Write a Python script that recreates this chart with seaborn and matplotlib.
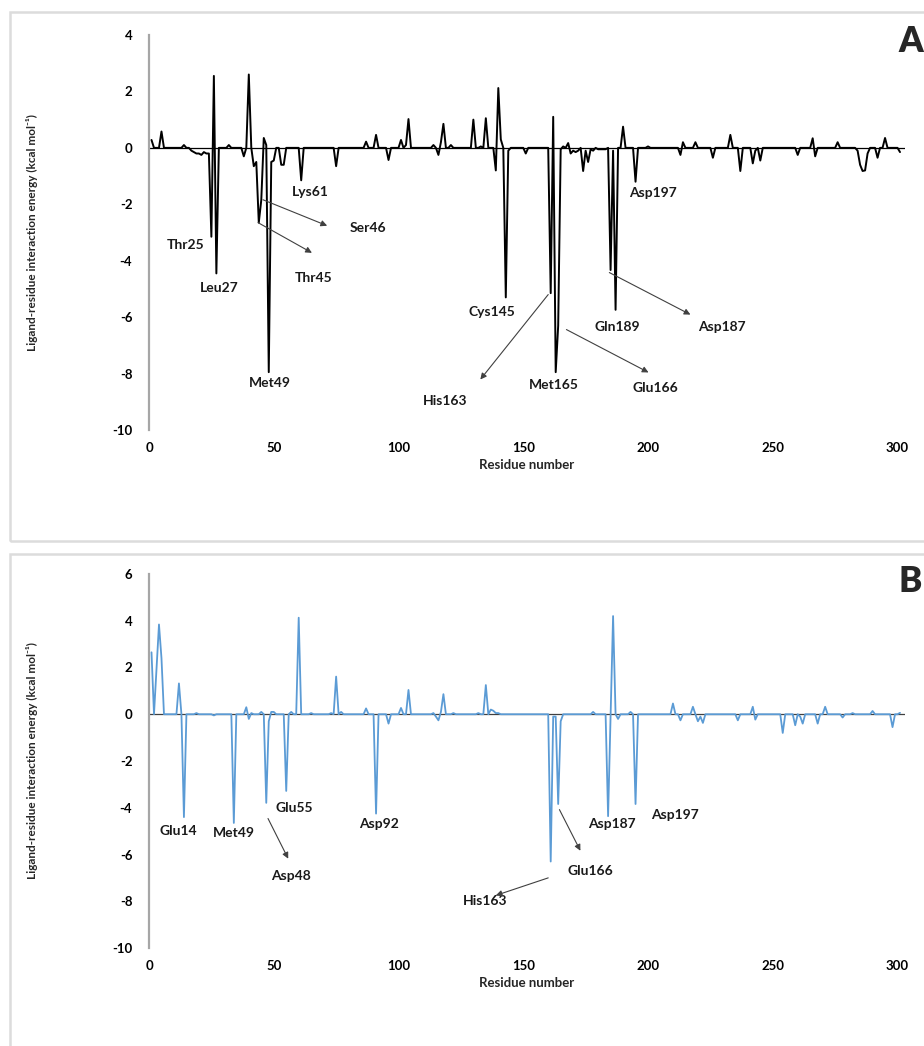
import matplotlib
matplotlib.use("Agg")
import numpy as np
import pandas as pd
import seaborn as sns
import matplotlib.pyplot as plt
from matplotlib.patches import Rectangle

# ---------------- data ----------------
N_RES = 301
# Panel A: residues with non-zero ligand-residue interaction energy (kcal/mol)
A_res = [1, 5, 14, 17, 18, 19, 20, 21, 22, 23, 24, 25, 26, 27, 32, 38, 40, 42, 43, 44,
         45, 46, 47, 48, 49, 50, 53, 54, 61, 75, 87, 91, 96, 101, 103, 104, 114, 116,
         117, 118, 121, 130, 133, 135, 139, 140, 141, 143, 144, 151, 161, 162, 163,
         164, 165, 166, 168, 169, 170, 171, 172, 174, 175, 176, 177, 178, 180, 181,
         182, 183, 185, 186, 187, 190, 195, 200, 213, 214, 219, 226, 233, 237, 242,
         243, 245, 260, 266, 267, 276, 284, 285, 286, 287, 288, 292, 295, 301]
A_val = [0.28, 0.58, 0.1, -0.1, -0.15, -0.2, -0.2, -0.25, -0.15, -0.2, -0.2, -3.15, 2.55,
         -4.45, 0.1, -0.3, 2.6, -0.65, -0.5, -2.65, -1.85, 0.35, 0.1, -7.95, -0.5, -0.45,
         -0.6, -0.6, -1.15, -0.65, 0.22, 0.46, -0.43, 0.28, 0.1, 1.02, 0.1, -0.25, 0.2,
         0.85, 0.1, 1.0, 0.05, 1.05, -0.8, 2.12, 0.3, -5.3, -0.1, -0.2, -5.15, 1.1, -7.95,
         -6.3, -0.05, 0.05, 0.17, -0.2, -0.1, -0.15, -0.1, -0.82, -0.1, -0.5, -0.05,
         -0.1, -0.05, -0.05, -0.05, -0.05, -4.33, -0.1, -5.74, 0.75, -1.2, 0.05, -0.25,
         0.2, 0.2, -0.35, 0.46, -0.82, -0.55, -0.1, -0.45, -0.25, 0.34, -0.3, 0.2, -0.1,
         -0.6, -0.82, -0.8, -0.2, -0.35, 0.35, -0.15]

# Panel B
B_res = [1, 3, 4, 5, 12, 14, 19, 26, 34, 39, 40, 41, 45, 47, 48, 49, 50, 55, 57, 60,
         65, 73, 75, 77, 87, 91, 96, 101, 104, 114, 115, 116, 117, 118, 122, 132, 135,
         137, 138, 139, 140, 161, 162, 163, 164, 165, 178, 184, 186, 188, 193, 195, 210,
         213, 218, 220, 221, 222, 236, 242, 243, 254, 259, 261, 262, 268, 271, 278, 282,
         290, 298, 301]
B_val = [2.65, 1.9, 3.84, 2.4, 1.32, -4.4, 0.05, -0.05, -4.65, 0.3, -0.2, 0.05, 0.1,
         -3.79, -0.3, 0.1, 0.1, -3.28, 0.1, 4.13, 0.05, 0.05, 1.61, 0.1, 0.25, -4.25,
         -0.4, 0.27, 1.04, 0.05, -0.1, -0.26, 0.1, 0.86, 0.05, 0.05, 1.25, 0.2, 0.15,
         0.05, 0.05, -6.3, -0.1, -0.1, -3.84, -0.3, 0.1, -4.36, 4.2, -0.2, 0.1, -3.84,
         0.46, -0.26, 0.32, -0.3, -0.1, -0.37, -0.26, 0.32, -0.23, -0.8, -0.47, -0.1,
         -0.4, -0.4, 0.32, -0.14, 0.05, 0.14, -0.55, 0.06]

X_TICKS = [0, 50, 100, 150, 200, 250, 300]
A_YTICKS = [-10, -8, -6, -4, -2, 0, 2, 4]
B_YTICKS = [-10, -8, -6, -4, -2, 0, 2, 4, 6]

# annotations: (label, text x, text y, arrow tail/head (x0, y0, x1, y1) or None)
A_LABELS = [("Thr25", 14.8, -3.43, None), ("Leu27", 28.1, -4.96, None),
            ("Lys61", 64.6, -1.56, None), ("Ser46", 87.8, -2.83, (45.7, -1.84, 71.4, -2.76)),
            ("Thr45", 65.8, -4.6, (43.7, -2.65, 65.3, -3.72)), ("Met49", 48.5, -8.32, None),
            ("Cys145", 137.6, -5.8, None),
            ("His163", 118.7, -8.96, (160.0, -5.2, 132.8, -8.21)),
            ("Met165", 162.1, -8.42, None),
            ("Glu166", 203.0, -8.5, (167.3, -6.44, 200.2, -7.96)),
            ("Gln189", 187.7, -6.34, None),
            ("Asp187", 229.8, -6.34, (184.5, -4.42, 217.0, -5.91)),
            ("Asp197", 201.8, -1.59, None)]
B_LABELS = [("Glu14", 11.6, -4.98, None), ("Met49", 34.1, -5.1, None),
            ("Glu55", 58.2, -4.03, None), ("Asp92", 92.3, -4.68, None),
            ("Asp48", 57.0, -6.9, (47.7, -4.46, 55.8, -6.18)),
            ("Asp187", 185.7, -4.68, None), ("Asp197", 210.6, -4.33, None),
            ("Glu166", 176.9, -6.7, (164.5, -4.08, 172.9, -5.84)),
            ("His163", 134.8, -8.0, (160.0, -7.0, 139.0, -7.75))]

# ---------------- style ----------------
sns.set_theme(style="white")
plt.rcParams["font.family"] = ["Lato", "DejaVu Sans"]
plt.rcParams["axes.unicode_minus"] = False

W, H = 924, 1046
fig = plt.figure(figsize=(W / 100, H / 100), dpi=100)
fig.patch.set_facecolor("white")


def fx(px):
    return px / W


def fy(py):
    return 1 - py / H


# panel frames
fig.add_artist(Rectangle((fx(10), fy(541)), 1.2, (541 - 12) / H, transform=fig.transFigure,
                         fill=False, edgecolor="#dcdcdc", lw=1.8))
fig.add_artist(Rectangle((fx(10), fy(1100)), 1.2, (1100 - 554) / H, transform=fig.transFigure,
                         fill=False, edgecolor="#dcdcdc", lw=1.8))

axA = fig.add_axes([fx(149), fy(430), (905 - 149) / W, (430 - 35) / H])
axB = fig.add_axes([fx(149), fy(948), (905 - 149) / W, (948 - 574) / H])

resid = np.arange(1, N_RES + 1)
eA = np.zeros(N_RES)
eA[np.array(A_res) - 1] = A_val
eB = np.zeros(N_RES)
eB[np.array(B_res) - 1] = B_val
dfA = pd.DataFrame({"Residue number": resid, "Energy": eA})
dfB = pd.DataFrame({"Residue number": resid, "Energy": eB})


def style_axis(ax, yticks, ylo, yhi, zero_color):
    ax.axhline(0, color=zero_color, lw=0.9, zorder=1)
    ax.set_xlim(0, 303)
    ax.set_ylim(ylo, yhi)
    ax.set_xticks(X_TICKS)
    ax.set_yticks(yticks)
    for s in ["top", "right", "bottom"]:
        ax.spines[s].set_visible(False)
    ax.spines["left"].set_color("#a6a6a6")
    ax.spines["left"].set_linewidth(1.6)
    ax.tick_params(axis="both", length=0, labelsize=9.5, colors="black")
    ax.tick_params(axis="y", pad=12)
    ax.tick_params(axis="x", pad=9)
    for lbl in ax.get_xticklabels() + ax.get_yticklabels():
        lbl.set_fontweight("bold")
    ax.set_xlabel("Residue number", fontsize=9.5, fontweight="bold", labelpad=3)
    ax.set_ylabel("Ligand-residue interaction energy (kcal mol\u207b\u00b9)",
                  fontsize=8.5, fontweight="bold")
    ax.yaxis.set_label_coords((38 - 149) / (905 - 149), 0.5)
    ax.grid(False)
    ax.set_facecolor("none")


def annotate(ax, labels):
    for txt, tx, ty, arr in labels:
        ax.text(tx, ty, txt, fontsize=10, fontweight="bold", ha="center", va="center",
                color="#1a1a1a")
        if arr is not None:
            x0, y0, x1, y1 = arr
            ax.annotate("", xy=(x1, y1), xytext=(x0, y0),
                        arrowprops=dict(arrowstyle="-|>", color="#404040", lw=0.8,
                                        mutation_scale=9, shrinkA=0, shrinkB=0))


sns.lineplot(data=dfA, x="Residue number", y="Energy", ax=axA, color="black",
             lw=1.4, estimator=None, zorder=3)
style_axis(axA, A_YTICKS, -10, 4, "black")
annotate(axA, A_LABELS)

sns.lineplot(data=dfB, x="Residue number", y="Energy", ax=axB, color="#5b9bd5",
             lw=1.3, estimator=None, zorder=3)
style_axis(axB, B_YTICKS, -10, 6, "#404040")
annotate(axB, B_LABELS)

fig.text(fx(911), fy(42), "A", fontsize=25, fontweight="heavy", ha="center", va="center")
fig.text(fx(910), fy(582), "B", fontsize=25, fontweight="heavy", ha="center", va="center")

fig.savefig("out.png", dpi=100, facecolor="white")
